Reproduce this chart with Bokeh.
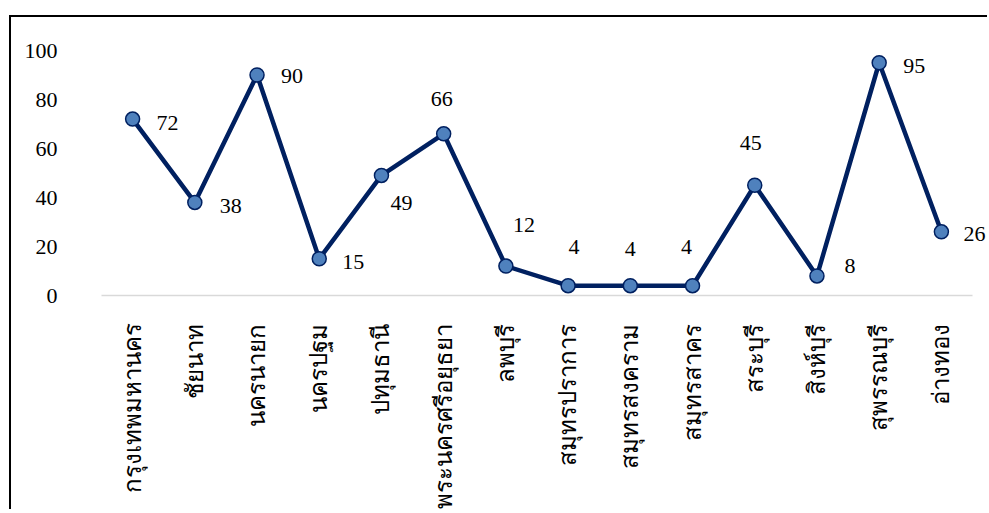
from bokeh.plotting import figure
from bokeh.models import ColumnDataSource, FixedTicker, Range1d, LabelSet
from bokeh.core.properties import value
from bokeh.embed import file_html
from bokeh.resources import INLINE
import math

provinces = ["กรุงเทพมหานคร", "ชัยนาท", "นครนายก", "นครปฐม", "ปทุมธานี",
             "พระนครศรีอยุธยา", "ลพบุรี", "สมุทรปราการ", "สมุทรสงคราม",
             "สมุทรสาคร", "สระบุรี", "สิงห์บุรี", "สุพรรณบุรี", "อ่างทอง"]
counts = [72, 38, 90, 15, 49, 66, 12, 4, 4, 4, 45, 8, 95, 26]
y_ticks = [0, 20, 40, 60, 80, 100]

# label placement (screen px offsets from the point; dy positive = downwards)
label_dx = [35, 36, 35, 34, 20, -2, 18, 6, 0, -6, -4, 33, 35, 33]
label_dy = [4, 4, 1, 3, 28, -35, -41, -39, -37, -39, -42, -10, 3, 2]

n = len(provinces)
xpos = [i + 0.5 for i in range(n)]   # category centres on a numeric scale

src = ColumnDataSource(dict(x=xpos, y=counts, t=[str(c) for c in counts],
                            dx=label_dx, dy=[-d for d in label_dy]))

# frame extends past the last category so the last data label is not clipped
x_end = n * (888 / 871)

p = figure(width=978, height=494, output_backend="svg", toolbar_location=None,
           x_range=Range1d(0, x_end), y_range=Range1d(0, 100),
           min_border_left=90, min_border_right=0, min_border_top=33,
           min_border_bottom=213)
p.margin = (15, 0, 0, 9)
p.styles = {"border-top": "2px solid black", "border-left": "2px solid black"}
p.outline_line_color = None
p.background_fill_color = "white"
p.border_fill_color = "white"

p.line("x", "y", source=src, line_color="#002060", line_width=4.5, line_join="round")
p.scatter("x", "y", source=src, size=14, fill_color="#4F81BD",
          line_color="#002060", line_width=1.5)
labels = LabelSet(x="x", y="y", text="t", source=src, x_offset="dx", y_offset="dy",
                  text_align="center", text_baseline="middle",
                  text_font=value("Liberation Serif"), text_font_size="22px",
                  text_color="black")
p.add_layout(labels)

p.xgrid.grid_line_color = None
p.ygrid.grid_line_color = None

p.yaxis.ticker = FixedTicker(ticks=y_ticks)
p.yaxis.axis_line_color = None
p.yaxis.major_tick_line_color = None
p.yaxis.minor_tick_line_color = None
p.yaxis.major_label_standoff = 38
p.yaxis.major_label_text_font = "Liberation Serif"
p.yaxis.major_label_text_font_size = "22px"
p.yaxis.major_label_text_color = "black"

p.xaxis.ticker = FixedTicker(ticks=xpos)
p.xaxis.major_label_overrides = {x: name for x, name in zip(xpos, provinces)}
p.xaxis.bounds = (0, n)
p.xaxis.axis_line_color = "#d9d9d9"
p.xaxis.axis_line_width = 1.5
p.xaxis.major_tick_line_color = None
p.xaxis.minor_tick_line_color = None
p.xaxis.major_label_orientation = math.pi / 2
p.xaxis.major_label_standoff = 22
p.xaxis.major_label_text_font = "Liberation Serif"
p.xaxis.major_label_text_font_size = "24px"
p.xaxis.major_label_text_color = "black"

open("out.html", "w").write(file_html(p, INLINE))
